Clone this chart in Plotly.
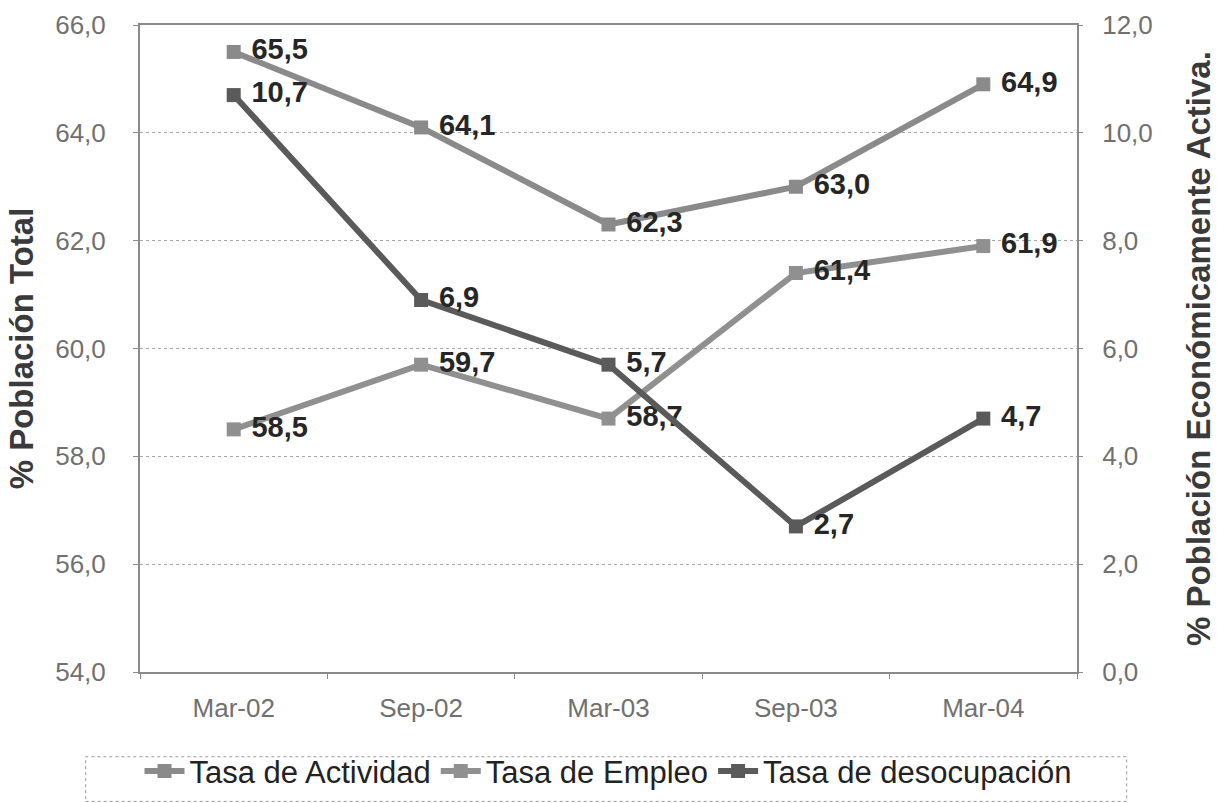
import plotly.graph_objects as go

periodos = ["Mar-02", "Sep-02", "Mar-03", "Sep-03", "Mar-04"]
tasa_actividad = [65.5, 64.1, 62.3, 63.0, 64.9]
tasa_empleo = [58.5, 59.7, 58.7, 61.4, 61.9]
tasa_desocupacion = [10.7, 6.9, 5.7, 2.7, 4.7]

FONT = "Arial, Liberation Sans, sans-serif"


def etiquetas(valores):
    return ["\u00a0" + f"{v:.1f}".replace(".", ",") for v in valores]


label_font = dict(family=FONT, size=29, color="#262626")


def serie(valores, nombre, color, eje="y"):
    return go.Scatter(
        x=periodos, y=valores, name=nombre, yaxis=eje,
        mode="lines+markers+text", text=etiquetas(valores),
        textposition="middle right", textfont=label_font,
        texttemplate="<b>%{text}</b>",
        line=dict(color=color, width=6),
        marker=dict(symbol="square", size=14, color=color),
        cliponaxis=False,
    )


fig = go.Figure()
fig.add_trace(serie(tasa_actividad, "Tasa de Actividad", "#8a8a8a"))
fig.add_trace(serie(tasa_empleo, "Tasa de Empleo", "#909090"))
fig.add_trace(serie(tasa_desocupacion, "Tasa de desocupación", "#5a5a5a", "y2"))

tick_font = dict(family=FONT, size=26, color="#707070")
title_font = dict(family=FONT, size=33, color="#3a3a3a")

fig.update_layout(
    width=1217, height=803,
    margin=dict(l=140, r=140, t=25, b=131, autoexpand=False),
    paper_bgcolor="white", plot_bgcolor="white",
    separators=",.",
    showlegend=True,
    xaxis=dict(
        type="category", range=[-0.5, 4.5],
        showline=True, linecolor="#8a8a8a", linewidth=2, mirror=True,
        ticks="outside", ticklen=5, tickcolor="#8a8a8a", tickson="boundaries",
        ticklabelstandoff=12,
        tickfont=tick_font, showgrid=False, zeroline=False,
    ),
    yaxis=dict(
        range=[54, 66], dtick=2, tickformat=".1f",
        showline=True, linecolor="#8a8a8a", linewidth=2, mirror=True,
        ticks="outside", ticklen=5, tickcolor="#8a8a8a",
        ticklabelstandoff=22,
        showgrid=True, gridcolor="#a8a8a8", griddash="dot", gridwidth=1,
        tickfont=tick_font, zeroline=False,
        title=dict(text="<b>% Población Total</b>", font=title_font, standoff=12),
    ),
    yaxis2=dict(
        range=[0, 12], dtick=2, tickformat=".1f",
        overlaying="y", side="right",
        showline=False, ticks="outside", ticklen=5, tickcolor="#8a8a8a",
        ticklabelstandoff=14,
        showgrid=False, zeroline=False,
        tickfont=tick_font,
        title=dict(text="<b>% Población Económicamente Activa.</b>", font=title_font, standoff=36),
    ),
    legend=dict(
        orientation="h", x=0.5, xanchor="center", y=-0.112, yanchor="top",
        font=dict(family=FONT, size=31, color="#222222"),
        bgcolor="rgba(0,0,0,0)", borderwidth=0, itemwidth=40,
        tracegroupgap=0,
    ),
)

# dotted frame around the legend
fig.add_shape(
    type="rect", xref="paper", yref="paper",
    x0=-0.058, x1=1.053, y0=-0.2, y1=-0.131,
    line=dict(color="#9a9a9a", width=1, dash="dot"),
)

fig.write_html("out.html")
